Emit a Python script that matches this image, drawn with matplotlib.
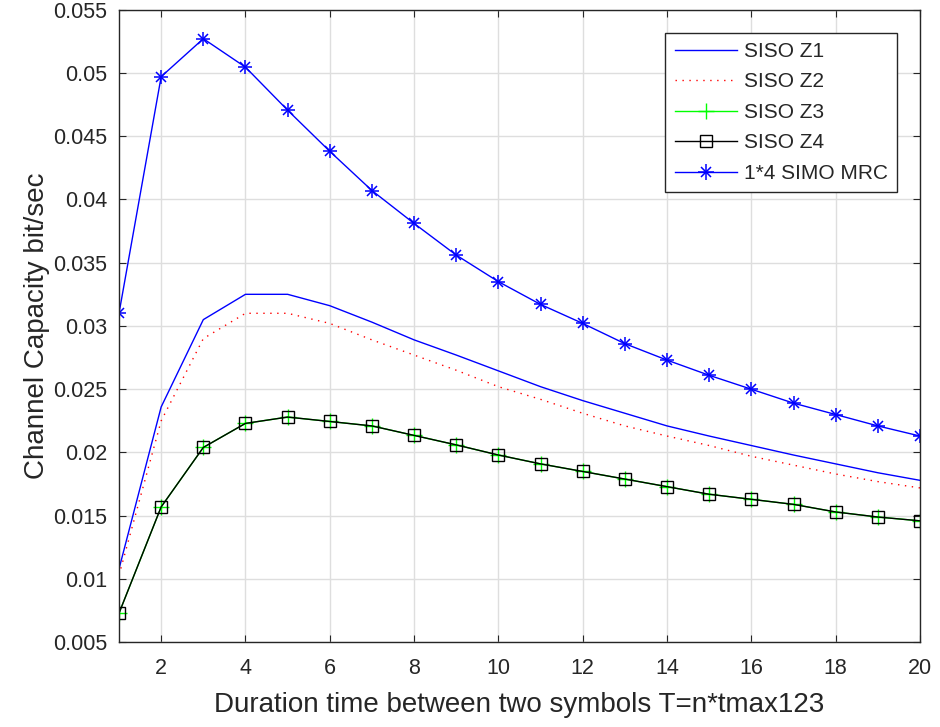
import matplotlib
matplotlib.use("Agg")
import matplotlib.pyplot as plt
from matplotlib.lines import Line2D

plt.rcParams['font.family'] = ['Liberation Sans', 'DejaVu Sans']

n = list(range(1, 21))

siso_z1 = [0.0108, 0.0236, 0.0305, 0.0325, 0.0325, 0.0316, 0.0303, 0.0289, 0.0277, 0.02645,
           0.0252, 0.0241, 0.0231, 0.0221, 0.0213, 0.02055, 0.0198, 0.0191, 0.0184, 0.0178]
siso_z2 = [0.0103, 0.0225, 0.0290, 0.0310, 0.0310, 0.0302, 0.0289, 0.0277, 0.0265, 0.0252,
           0.0242, 0.0231, 0.0221, 0.0213, 0.02055, 0.0197, 0.0190, 0.0183, 0.0177, 0.0172]
siso_z3 = [0.0073, 0.0157, 0.0204, 0.0223, 0.0228, 0.02245, 0.0221, 0.02135, 0.0206, 0.0198,
           0.0191, 0.0185, 0.0179, 0.0173, 0.0167, 0.0163, 0.0159, 0.0153, 0.0149, 0.0146]
siso_z4 = [0.0073, 0.0157, 0.0204, 0.0223, 0.0228, 0.02245, 0.0221, 0.02135, 0.0206, 0.0198,
           0.0191, 0.0185, 0.0179, 0.0173, 0.0167, 0.0163, 0.0159, 0.0153, 0.0149, 0.0146]
simo_mrc = [0.0310, 0.0497, 0.0527, 0.05045, 0.04705, 0.0438, 0.0407, 0.0381, 0.0356, 0.0335,
            0.0317, 0.0302, 0.0286, 0.0273, 0.0261, 0.0250, 0.0239, 0.0230, 0.0221, 0.0213]

series_labels = ['SISO Z1', 'SISO Z2', 'SISO Z3', 'SISO Z4', '1*4 SIMO MRC']
x_ticks = [2, 4, 6, 8, 10, 12, 14, 16, 18, 20]
y_ticks = [0.005, 0.01, 0.015, 0.02, 0.025, 0.03, 0.035, 0.04, 0.045, 0.05, 0.055]
y_tick_labels = ['0.005', '0.01', '0.015', '0.02', '0.025', '0.03', '0.035', '0.04',
                 '0.045', '0.05', '0.055']

BLUE = '#0000ff'
RED = '#ff0000'
GREEN = '#00ff00'
INK = '#262626'
DOTS = (0, (1, 4))

fig = plt.figure(figsize=(9.4, 7.27), dpi=100)
ax = fig.add_axes([0.1266, 0.1165, 0.8521, 0.8703])

lw = 1.0
ax.plot(n, siso_z1, color=BLUE, lw=lw)
ax.plot(n, siso_z2, color=RED, lw=lw, ls=DOTS)
ax.plot(n, siso_z3, color=GREEN, lw=lw, marker='+', ms=11, mew=1.0)
ax.plot(n, siso_z4, color='black', lw=lw, marker='s', ms=8, mfc='none', mew=1.0)
# asterisk markers: a '+' and an 'x' glyph overlaid at each point
ax.plot(n, simo_mrc, color=BLUE, lw=lw, marker='+', ms=10, mew=1.1)
ax.plot(n, simo_mrc, ls='none', marker='x', ms=7, mew=1.1, color=BLUE)

ax.set_xlim(1, 20)
ax.set_ylim(0.005, 0.055)
ax.set_xticks(x_ticks)
ax.set_yticks(y_ticks)
ax.set_yticklabels(y_tick_labels)

ax.grid(True, color='#dedede', lw=1.0)
ax.set_axisbelow(True)
ax.tick_params(direction='in', top=True, right=True, length=5, width=0.8,
               labelsize=15.5, colors=INK, labelcolor=INK)
ax.tick_params(axis='x', pad=11)
ax.tick_params(axis='y', pad=8.5)
for s in ax.spines.values():
    s.set_color(INK)
    s.set_linewidth(1.0)

ax.set_xlabel('Duration time between two symbols T=n*tmax123', fontsize=20,
              color=INK, labelpad=10)
ax.set_ylabel('Channel Capacity bit/sec', fontsize=20, color=INK, labelpad=2)

handles = [
    Line2D([], [], color=BLUE, lw=lw),
    Line2D([], [], color=RED, lw=lw, ls=DOTS),
    Line2D([], [], color=GREEN, lw=lw, marker='+', ms=11, mew=1.0),
    Line2D([], [], color='black', lw=lw, marker='s', ms=8, mfc='none', mew=1.0),
    (Line2D([], [], color=BLUE, lw=lw, marker='+', ms=11, mew=1.1),
     Line2D([], [], color=BLUE, ls='none', marker='x', ms=7.8, mew=1.1)),
]
leg = ax.legend(handles, series_labels, loc='upper right',
                bbox_to_anchor=(0.9713, 0.9636), fontsize=15, frameon=True,
                fancybox=False, handlelength=3.0, handletextpad=0.3,
                borderpad=0.45, labelspacing=0.55, borderaxespad=0)
leg.get_frame().set_edgecolor(INK)
leg.get_frame().set_linewidth(1.0)
leg.get_frame().set_alpha(1.0)
for t in leg.get_texts():
    t.set_color(INK)

fig.savefig('out.png', dpi=100, facecolor='white')
